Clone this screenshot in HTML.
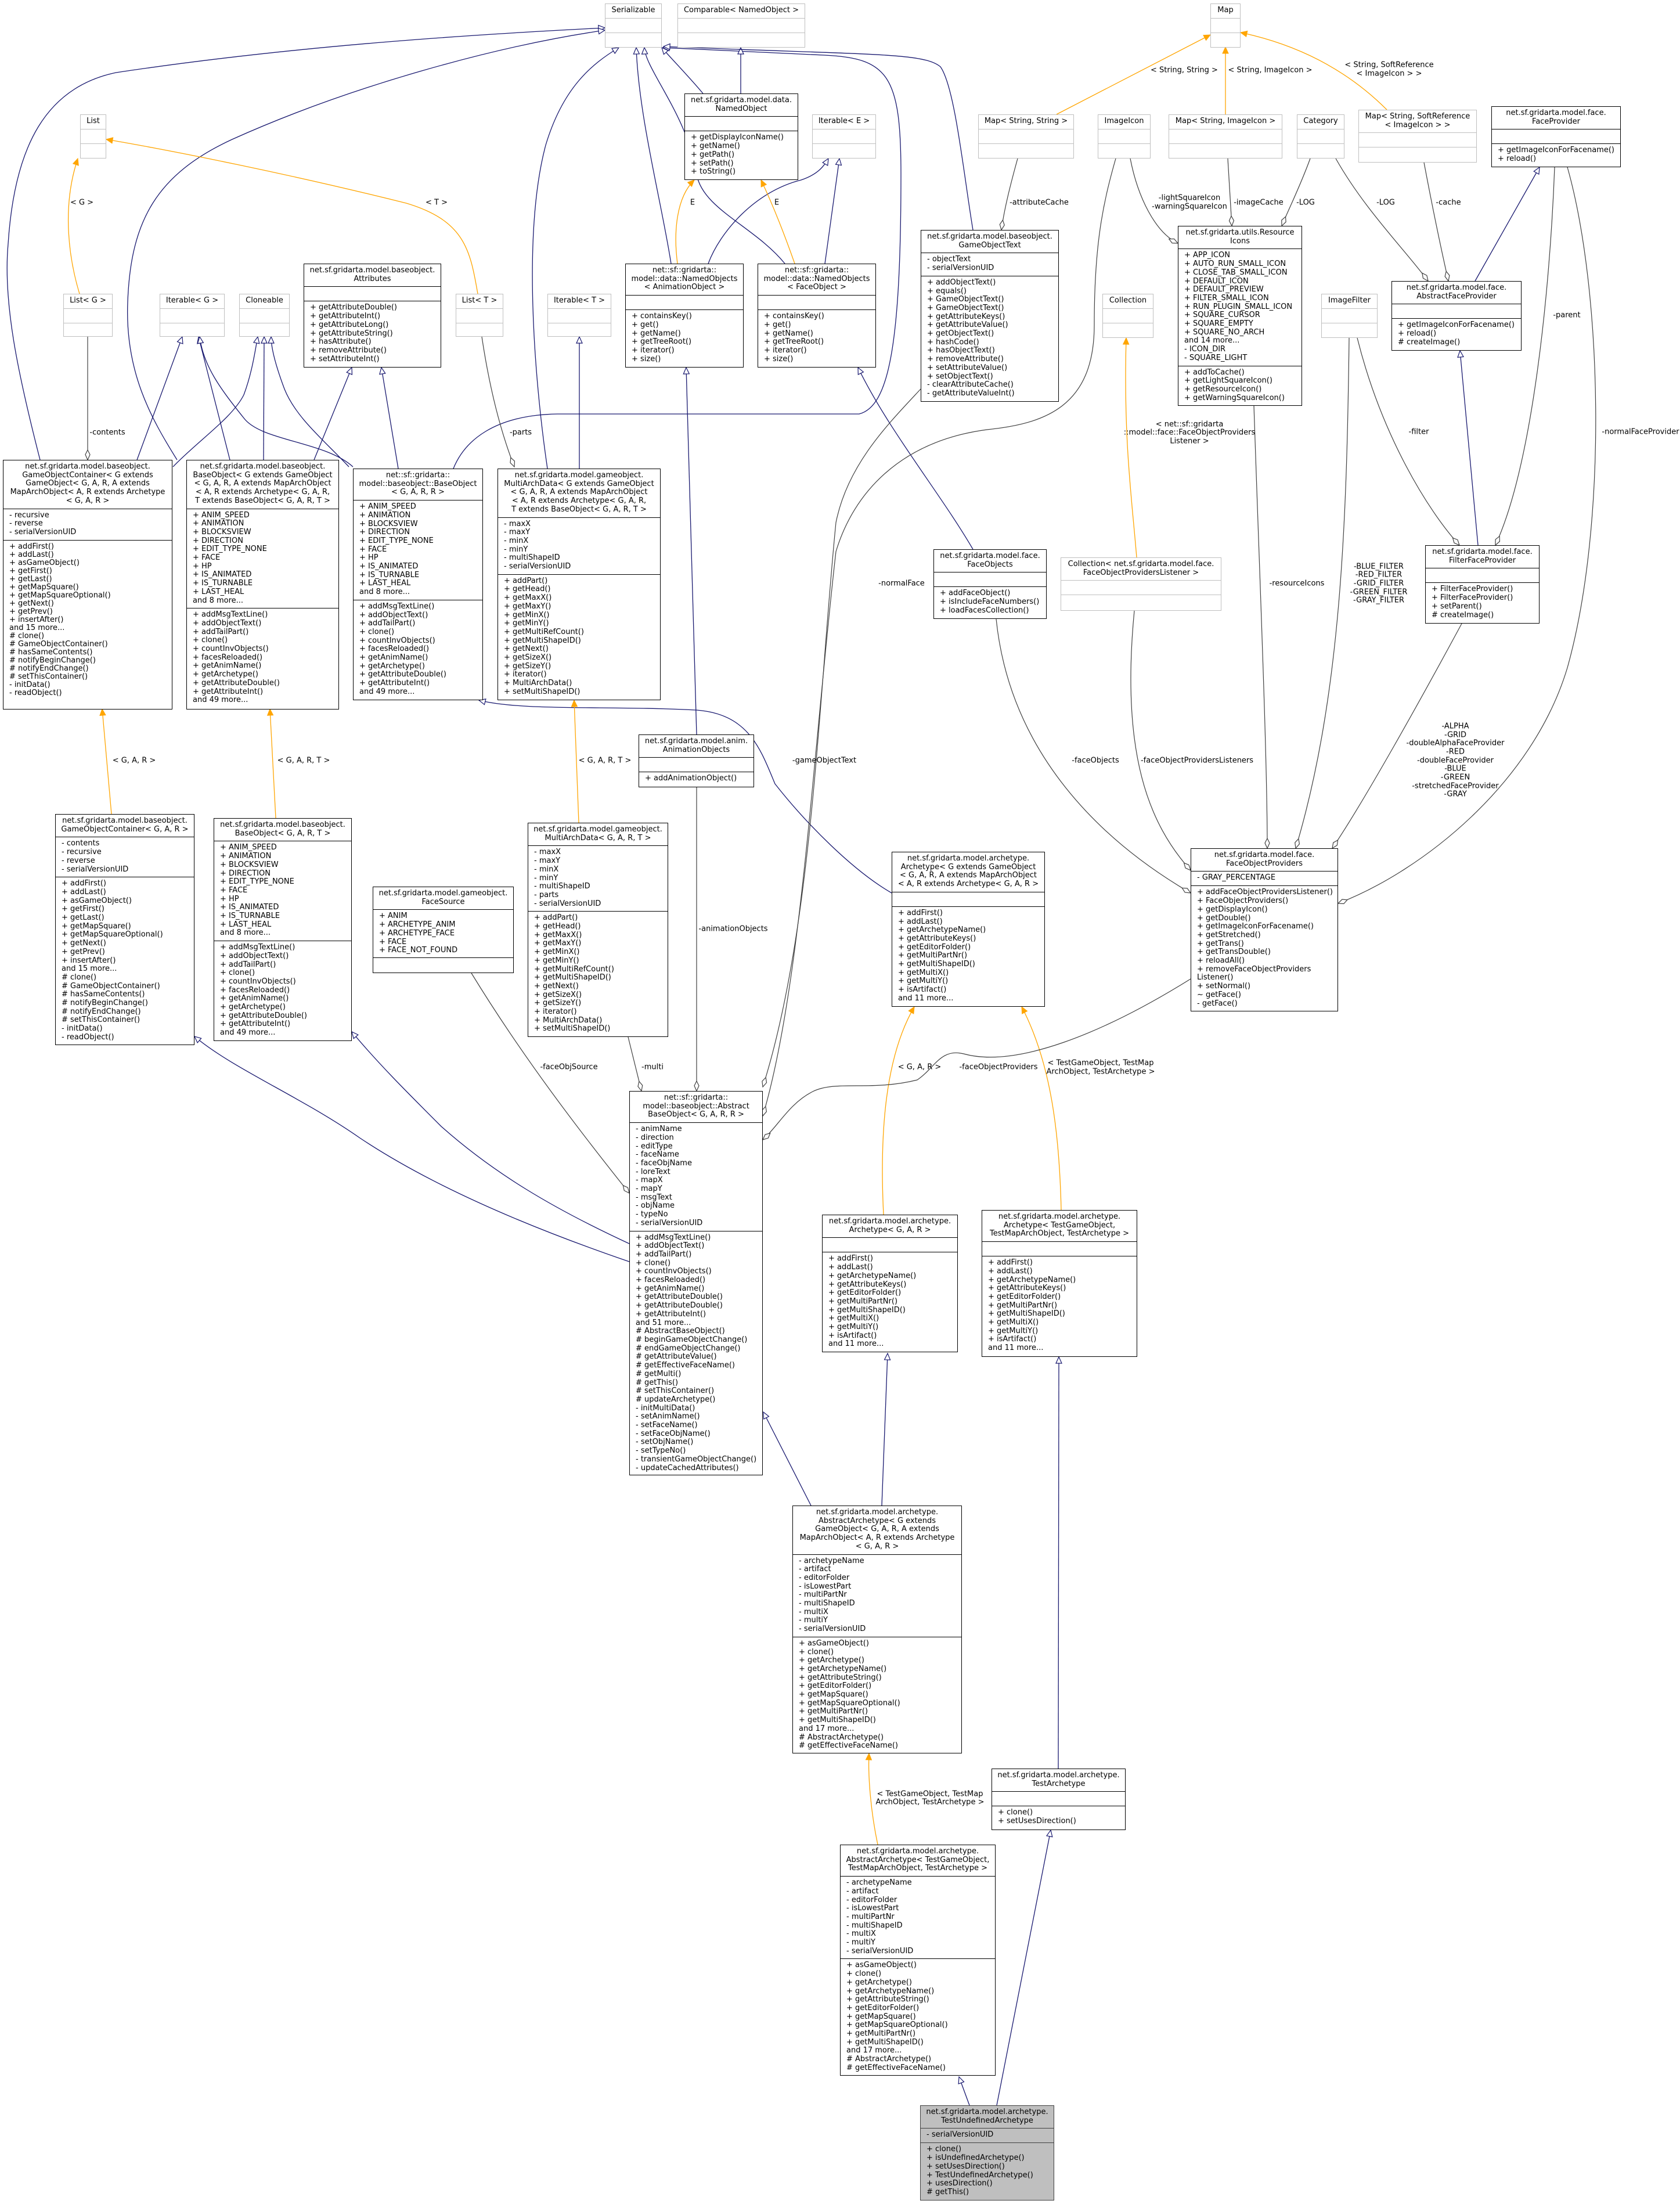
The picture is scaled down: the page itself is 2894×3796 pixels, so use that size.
<!DOCTYPE html>
<html><head><meta charset="utf-8"><style>
*{margin:0;padding:0}
body{width:2894px;height:3796px;background:#fff;position:relative;overflow:hidden;font-family:"DejaVu Sans","Liberation Sans",sans-serif;font-size:13px;color:#000}
.b{position:absolute;border:1.3px solid #000;background:#fff;display:flex;flex-direction:column;box-sizing:border-box;overflow:hidden;white-space:nowrap}
.t{text-align:center;padding:4px 4px 5px;border-bottom:1.3px solid #000;line-height:14.7px}
.s{padding:4px 10px 5px;border-bottom:1.3px solid #000;line-height:14.7px;min-height:25px;box-sizing:border-box}
.f{flex:1;border-bottom:none}
.g{border-color:#bfbfbf}.g .t,.g .s{border-color:#bfbfbf}
.h{background:#bfbfbf;border-color:#404040}.h .t,.h .s{border-color:#404040}
svg{position:absolute;left:0;top:0}
svg text{font-family:"DejaVu Sans","Liberation Sans",sans-serif;font-size:13px;fill:#000}
</style></head><body>
<svg width="2894" height="3796" viewBox="0 0 2894 3796">
<defs>
<marker id="inh" markerUnits="userSpaceOnUse" markerWidth="14" markerHeight="14" refX="12" refY="6" orient="auto"><path d="M1,1 L12,6 L1,11 Z" fill="#fff" stroke="#191970" stroke-width="1.2"/></marker>
<marker id="tpl" markerUnits="userSpaceOnUse" markerWidth="14" markerHeight="14" refX="12" refY="6" orient="auto"><path d="M1,1 L12,6 L1,11 Z" fill="#ffa500" stroke="#ffa500"/></marker>
<marker id="dia" markerUnits="userSpaceOnUse" markerWidth="20" markerHeight="12" refX="18" refY="5" orient="auto"><path d="M1,5 L9,1 L18,5 L9,9 Z" fill="#fff" stroke="#404040" stroke-width="1.2"/></marker>
</defs>
<g fill="none" stroke="#191970" stroke-width="1.3" marker-end="url(#inh)">
<path d="M69,792 C30,640 5,520 14,420 C25,250 80,150 200,125 C500,80 800,60 1042,48"/>
<path d="M305,792 C260,720 215,640 220,520 C225,380 270,300 400,240 C600,150 850,80 1042,52"/>
<path d="M781,807 C800,760 850,715 960,713 L1480,713 C1530,700 1552,600 1552,300 C1552,130 1530,100 1420,95 L1142,82"/>
<path d="M943,807 C920,650 900,400 940,250 C970,150 1020,110 1066,82"/>
<path d="M1156,454 C1140,350 1100,200 1096,82"/>
<path d="M1352,454 C1300,390 1210,360 1200,300 C1185,200 1112,120 1110,82"/>
<path d="M1211,161 C1185,130 1160,105 1140,82"/>
<path d="M1276,161 L1276,82"/>
<path d="M1676,396 C1660,300 1645,150 1620,115 C1590,90 1500,95 1143,80"/>
<path d="M1220,454 C1240,400 1300,330 1380,310 C1410,300 1420,285 1427,273"/>
<path d="M1421,454 L1446,273"/>
<path d="M236,792 L314,580"/>
<path d="M396,792 L342,580"/>
<path d="M608,804 C560,760 450,760 420,720 C380,670 350,630 344,580"/>
<path d="M298,804 C340,760 400,720 420,680 C435,640 440,600 444,580"/>
<path d="M454,792 L455,580"/>
<path d="M601,804 C560,760 510,720 490,670 C475,630 467,600 467,580"/>
<path d="M541,792 L606,633"/>
<path d="M686,807 L657,633"/>
<path d="M998,807 L998,580"/>
<path d="M1676,946 C1620,850 1530,740 1478,633"/>
<path d="M2546,939 L2515,604"/>
<path d="M2541,484 L2652,288"/>
<path d="M1084,2173 C900,2110 740,2040 620,1960 C520,1890 400,1840 335,1785"/>
<path d="M1084,2142 C950,2080 850,2020 760,1940 C700,1880 650,1830 606,1777"/>
<path d="M1536,1538 C1470,1500 1390,1420 1335,1350 C1310,1290 1290,1230 1200,1223 C1050,1215 900,1225 825,1206"/>
<path d="M1397,2593 L1315,2432"/>
<path d="M1519,2593 L1529,2331"/>
<path d="M1670,3626 L1652,3577"/>
<path d="M1717,3626 L1810,3152"/>
<path d="M1823,3046 L1824,2337"/>
<path d="M1200,1265 L1182,633"/>
</g>
<g fill="none" stroke="#ffa500" stroke-width="1.3" marker-end="url(#tpl)">
<path d="M137,506 C120,450 105,360 134,273"/>
<path d="M823,506 C810,430 800,380 700,350 C500,300 300,260 183,240"/>
<path d="M1167,454 C1160,400 1165,340 1196,310"/>
<path d="M1369,454 C1350,400 1330,350 1311,310"/>
<path d="M1820,197 L2085,60"/>
<path d="M2111,197 L2111,81"/>
<path d="M2389,189 C2330,130 2250,80 2137,56"/>
<path d="M1958,960 C1950,860 1935,760 1940,582"/>
<path d="M192,1402 L176,1221"/>
<path d="M475,1409 L465,1221"/>
<path d="M997,1417 L989,1206"/>
<path d="M1522,2092 C1515,1950 1525,1820 1575,1734"/>
<path d="M1828,2084 C1825,1950 1810,1830 1760,1734"/>
<path d="M1512,3177 C1500,3120 1495,3060 1497,3020"/>
</g>
<g fill="none" stroke="#404040" stroke-width="1.2" marker-end="url(#dia)">
<path d="M151,580 L151,792"/>
<path d="M830,580 C845,680 865,750 886,804"/>
<path d="M1753,273 C1740,320 1730,360 1725,396"/>
<path d="M1947,273 C1960,340 1990,400 2029,419"/>
<path d="M2115,273 L2122,389"/>
<path d="M2257,273 C2240,320 2220,360 2208,389"/>
<path d="M2301,273 C2350,360 2420,430 2460,484"/>
<path d="M2453,280 C2470,370 2485,440 2495,484"/>
<path d="M2678,288 C2670,500 2640,800 2576,939"/>
<path d="M2338,582 C2380,750 2460,880 2514,939"/>
<path d="M2700,288 C2760,500 2770,900 2700,1150 C2640,1350 2450,1500 2305,1556"/>
<path d="M2518,1074 C2450,1200 2350,1380 2295,1461"/>
<path d="M2324,582 C2320,900 2310,1200 2232,1461"/>
<path d="M2160,699 C2170,1000 2183,1300 2183,1461"/>
<path d="M1954,1052 C1930,1300 1980,1420 2051,1499"/>
<path d="M1716,1066 C1740,1300 1900,1450 2051,1538"/>
<path d="M1922,273 C1900,350 1885,420 1885,560 C1885,700 1800,730 1700,740 C1550,760 1470,850 1440,950 C1400,1300 1380,1700 1314,1922"/>
<path d="M1586,670 C1530,730 1460,800 1440,900 C1410,1200 1400,1600 1314,1872"/>
<path d="M1200,1356 L1200,1879"/>
<path d="M1082,1786 L1105,1879"/>
<path d="M812,1676 C900,1820 1000,1950 1084,2055"/>
<path d="M2051,1686 C1900,1780 1750,1840 1660,1815 C1620,1805 1610,1840 1580,1860 C1500,1880 1440,1860 1400,1880 C1360,1900 1340,1940 1314,1963"/>
</g>
<g text-anchor="middle" dominant-baseline="middle">
<text x="141" y="349">&lt; G &gt;</text>
<text x="752" y="349">&lt; T &gt;</text>
<text x="1193" y="349">E</text>
<text x="1338" y="349">E</text>
<text x="2040" y="121">&lt; String, String &gt;</text>
<text x="2188" y="121">&lt; String, ImageIcon &gt;</text>
<text x="2393" y="112">&lt; String, SoftReference</text>
<text x="2393" y="127">&lt; ImageIcon &gt; &gt;</text>
<text x="2049" y="731">&lt; net::sf::gridarta</text>
<text x="2049" y="745">::model::face::FaceObjectProviders</text>
<text x="2049" y="760">Listener &gt;</text>
<text x="231" y="1310">&lt; G, A, R &gt;</text>
<text x="523" y="1310">&lt; G, A, R, T &gt;</text>
<text x="1042" y="1310">&lt; G, A, R, T &gt;</text>
<text x="1584" y="1838">&lt; G, A, R &gt;</text>
<text x="1896" y="1831">&lt; TestGameObject, TestMap</text>
<text x="1896" y="1846">ArchObject, TestArchetype &gt;</text>
<text x="1602" y="3090">&lt; TestGameObject, TestMap</text>
<text x="1602" y="3104">ArchObject, TestArchetype &gt;</text>
<text x="185" y="745">-contents</text>
<text x="897" y="745">-parts</text>
<text x="1790" y="349">-attributeCache</text>
<text x="2049" y="341">-lightSquareIcon</text>
<text x="2049" y="356">-warningSquareIcon</text>
<text x="2168" y="349">-imageCache</text>
<text x="2249" y="349">-LOG</text>
<text x="2387" y="349">-LOG</text>
<text x="2495" y="349">-cache</text>
<text x="2699" y="543">-parent</text>
<text x="2444" y="744">-filter</text>
<text x="2826" y="744">-normalFaceProvider</text>
<text x="2507" y="1251">-ALPHA</text>
<text x="2507" y="1266">-GRID</text>
<text x="2507" y="1280">-doubleAlphaFaceProvider</text>
<text x="2507" y="1295">-RED</text>
<text x="2507" y="1310">-doubleFaceProvider</text>
<text x="2507" y="1324">-BLUE</text>
<text x="2507" y="1339">-GREEN</text>
<text x="2507" y="1354">-stretchedFaceProvider</text>
<text x="2507" y="1368">-GRAY</text>
<text x="2375" y="976">-BLUE_FILTER</text>
<text x="2375" y="990">-RED_FILTER</text>
<text x="2375" y="1005">-GRID_FILTER</text>
<text x="2375" y="1020">-GREEN_FILTER</text>
<text x="2375" y="1034">-GRAY_FILTER</text>
<text x="2234" y="1005">-resourceIcons</text>
<text x="2062" y="1310">-faceObjectProvidersListeners</text>
<text x="1887" y="1310">-faceObjects</text>
<text x="1553" y="1005">-normalFace</text>
<text x="1420" y="1310">-gameObjectText</text>
<text x="1263" y="1600">-animationObjects</text>
<text x="1124" y="1838">-multi</text>
<text x="980" y="1838">-faceObjSource</text>
<text x="1720" y="1838">-faceObjectProviders</text>
</g>
</svg>

<div class="b g" style="left:1042px;top:6px;width:98px;height:76px"><div class="t">Serializable</div><div class="s"></div><div class="s f"></div></div>
<div class="b g" style="left:1167px;top:6px;width:220px;height:76px"><div class="t">Comparable&lt; NamedObject &gt;</div><div class="s"></div><div class="s f"></div></div>
<div class="b g" style="left:2085px;top:6px;width:52px;height:76px"><div class="t">Map</div><div class="s"></div><div class="s f"></div></div>
<div class="b" style="left:1179px;top:161px;width:196px;height:149px"><div class="t">net.sf.gridarta.model.data.<br>NamedObject</div><div class="s"></div><div class="s f">+ getDisplayIconName()<br>+ getName()<br>+ getPath()<br>+ setPath()<br>+ toString()</div></div>
<div class="b g" style="left:138px;top:197px;width:45px;height:76px"><div class="t">List</div><div class="s"></div><div class="s f"></div></div>
<div class="b g" style="left:1399px;top:197px;width:110px;height:76px"><div class="t">Iterable&lt; E &gt;</div><div class="s"></div><div class="s f"></div></div>
<div class="b g" style="left:1685px;top:197px;width:165px;height:76px"><div class="t">Map&lt; String, String &gt;</div><div class="s"></div><div class="s f"></div></div>
<div class="b g" style="left:1891px;top:197px;width:91px;height:76px"><div class="t">ImageIcon</div><div class="s"></div><div class="s f"></div></div>
<div class="b g" style="left:2013px;top:197px;width:196px;height:76px"><div class="t">Map&lt; String, ImageIcon &gt;</div><div class="s"></div><div class="s f"></div></div>
<div class="b g" style="left:2234px;top:197px;width:82px;height:76px"><div class="t">Category</div><div class="s"></div><div class="s f"></div></div>
<div class="b g" style="left:2340px;top:189px;width:204px;height:91px"><div class="t">Map&lt; String, SoftReference<br>&lt; ImageIcon &gt; &gt;</div><div class="s"></div><div class="s f"></div></div>
<div class="b" style="left:2569px;top:183px;width:223px;height:105px"><div class="t">net.sf.gridarta.model.face.<br>FaceProvider</div><div class="s"></div><div class="s f">+ getImageIconForFacename()<br>+ reload()</div></div>
<div class="b" style="left:523px;top:454px;width:237px;height:179px"><div class="t">net.sf.gridarta.model.baseobject.<br>Attributes</div><div class="s"></div><div class="s f">+ getAttributeDouble()<br>+ getAttributeInt()<br>+ getAttributeLong()<br>+ getAttributeString()<br>+ hasAttribute()<br>+ removeAttribute()<br>+ setAttributeInt()</div></div>
<div class="b" style="left:1077px;top:454px;width:204px;height:179px"><div class="t">net::sf::gridarta::<br>model::data::NamedObjects<br>&lt; AnimationObject &gt;</div><div class="s"></div><div class="s f">+ containsKey()<br>+ get()<br>+ getName()<br>+ getTreeRoot()<br>+ iterator()<br>+ size()</div></div>
<div class="b" style="left:1305px;top:454px;width:204px;height:179px"><div class="t">net::sf::gridarta::<br>model::data::NamedObjects<br>&lt; FaceObject &gt;</div><div class="s"></div><div class="s f">+ containsKey()<br>+ get()<br>+ getName()<br>+ getTreeRoot()<br>+ iterator()<br>+ size()</div></div>
<div class="b" style="left:1586px;top:396px;width:238px;height:296px"><div class="t">net.sf.gridarta.model.baseobject.<br>GameObjectText</div><div class="s">- objectText<br>- serialVersionUID</div><div class="s f">+ addObjectText()<br>+ equals()<br>+ GameObjectText()<br>+ GameObjectText()<br>+ getAttributeKeys()<br>+ getAttributeValue()<br>+ getObjectText()<br>+ hashCode()<br>+ hasObjectText()<br>+ removeAttribute()<br>+ setAttributeValue()<br>+ setObjectText()<br>- clearAttributeCache()<br>- getAttributeValueInt()</div></div>
<div class="b" style="left:2029px;top:389px;width:214px;height:310px"><div class="t">net.sf.gridarta.utils.Resource<br>Icons</div><div class="s">+ APP_ICON<br>+ AUTO_RUN_SMALL_ICON<br>+ CLOSE_TAB_SMALL_ICON<br>+ DEFAULT_ICON<br>+ DEFAULT_PREVIEW<br>+ FILTER_SMALL_ICON<br>+ RUN_PLUGIN_SMALL_ICON<br>+ SQUARE_CURSOR<br>+ SQUARE_EMPTY<br>+ SQUARE_NO_ARCH<br>and 14 more...<br>- ICON_DIR<br>- SQUARE_LIGHT</div><div class="s f">+ addToCache()<br>+ getLightSquareIcon()<br>+ getResourceIcon()<br>+ getWarningSquareIcon()</div></div>
<div class="b" style="left:2397px;top:484px;width:224px;height:120px"><div class="t">net.sf.gridarta.model.face.<br>AbstractFaceProvider</div><div class="s"></div><div class="s f">+ getImageIconForFacename()<br>+ reload()<br># createImage()</div></div>
<div class="b g" style="left:109px;top:506px;width:85px;height:74px"><div class="t">List&lt; G &gt;</div><div class="s"></div><div class="s f"></div></div>
<div class="b g" style="left:275px;top:506px;width:112px;height:74px"><div class="t">Iterable&lt; G &gt;</div><div class="s"></div><div class="s f"></div></div>
<div class="b g" style="left:412px;top:506px;width:87px;height:74px"><div class="t">Cloneable</div><div class="s"></div><div class="s f"></div></div>
<div class="b g" style="left:785px;top:506px;width:82px;height:74px"><div class="t">List&lt; T &gt;</div><div class="s"></div><div class="s f"></div></div>
<div class="b g" style="left:943px;top:506px;width:110px;height:74px"><div class="t">Iterable&lt; T &gt;</div><div class="s"></div><div class="s f"></div></div>
<div class="b g" style="left:1899px;top:506px;width:88px;height:76px"><div class="t">Collection</div><div class="s"></div><div class="s f"></div></div>
<div class="b g" style="left:2276px;top:506px;width:97px;height:76px"><div class="t">ImageFilter</div><div class="s"></div><div class="s f"></div></div>

<div class="b" style="left:5px;top:792px;width:292px;height:430px"><div class="t">net.sf.gridarta.model.baseobject.<br>GameObjectContainer&lt; G extends<br>GameObject&lt; G, A, R, A extends<br>MapArchObject&lt; A, R extends Archetype<br>&lt; G, A, R &gt;</div><div class="s">- recursive<br>- reverse<br>- serialVersionUID</div><div class="s f" style="line-height:14px">+ addFirst()<br>+ addLast()<br>+ asGameObject()<br>+ getFirst()<br>+ getLast()<br>+ getMapSquare()<br>+ getMapSquareOptional()<br>+ getNext()<br>+ getPrev()<br>+ insertAfter()<br>and 15 more...<br># clone()<br># GameObjectContainer()<br># hasSameContents()<br># notifyBeginChange()<br># notifyEndChange()<br># setThisContainer()<br>- initData()<br>- readObject()</div></div>
<div class="b" style="left:321px;top:792px;width:263px;height:430px"><div class="t">net.sf.gridarta.model.baseobject.<br>BaseObject&lt; G extends GameObject<br>&lt; G, A, R, A extends MapArchObject<br>&lt; A, R extends Archetype&lt; G, A, R,<br>T extends BaseObject&lt; G, A, R, T &gt;</div><div class="s">+ ANIM_SPEED<br>+ ANIMATION<br>+ BLOCKSVIEW<br>+ DIRECTION<br>+ EDIT_TYPE_NONE<br>+ FACE<br>+ HP<br>+ IS_ANIMATED<br>+ IS_TURNABLE<br>+ LAST_HEAL<br>and 8 more...</div><div class="s f">+ addMsgTextLine()<br>+ addObjectText()<br>+ addTailPart()<br>+ clone()<br>+ countInvObjects()<br>+ facesReloaded()<br>+ getAnimName()<br>+ getArchetype()<br>+ getAttributeDouble()<br>+ getAttributeInt()<br>and 49 more...</div></div>
<div class="b" style="left:608px;top:807px;width:224px;height:399px"><div class="t">net::sf::gridarta::<br>model::baseobject::BaseObject<br>&lt; G, A, R, R &gt;</div><div class="s">+ ANIM_SPEED<br>+ ANIMATION<br>+ BLOCKSVIEW<br>+ DIRECTION<br>+ EDIT_TYPE_NONE<br>+ FACE<br>+ HP<br>+ IS_ANIMATED<br>+ IS_TURNABLE<br>+ LAST_HEAL<br>and 8 more...</div><div class="s f">+ addMsgTextLine()<br>+ addObjectText()<br>+ addTailPart()<br>+ clone()<br>+ countInvObjects()<br>+ facesReloaded()<br>+ getAnimName()<br>+ getArchetype()<br>+ getAttributeDouble()<br>+ getAttributeInt()<br>and 49 more...</div></div>
<div class="b" style="left:857px;top:807px;width:281px;height:399px"><div class="t">net.sf.gridarta.model.gameobject.<br>MultiArchData&lt; G extends GameObject<br>&lt; G, A, R, A extends MapArchObject<br>&lt; A, R extends Archetype&lt; G, A, R,<br>T extends BaseObject&lt; G, A, R, T &gt;</div><div class="s">- maxX<br>- maxY<br>- minX<br>- minY<br>- multiShapeID<br>- serialVersionUID</div><div class="s f">+ addPart()<br>+ getHead()<br>+ getMaxX()<br>+ getMaxY()<br>+ getMinX()<br>+ getMinY()<br>+ getMultiRefCount()<br>+ getMultiShapeID()<br>+ getNext()<br>+ getSizeX()<br>+ getSizeY()<br>+ iterator()<br>+ MultiArchData()<br>+ setMultiShapeID()</div></div>
<div class="b" style="left:1608px;top:946px;width:195px;height:120px"><div class="t">net.sf.gridarta.model.face.<br>FaceObjects</div><div class="s"></div><div class="s f">+ addFaceObject()<br>+ isIncludeFaceNumbers()<br>+ loadFacesCollection()</div></div>
<div class="b g" style="left:1827px;top:960px;width:277px;height:92px"><div class="t">Collection&lt; net.sf.gridarta.model.face.<br>FaceObjectProvidersListener &gt;</div><div class="s"></div><div class="s f"></div></div>
<div class="b" style="left:2455px;top:939px;width:197px;height:135px"><div class="t">net.sf.gridarta.model.face.<br>FilterFaceProvider</div><div class="s"></div><div class="s f">+ FilterFaceProvider()<br>+ FilterFaceProvider()<br>+ setParent()<br># createImage()</div></div>
<div class="b" style="left:1100px;top:1265px;width:199px;height:91px"><div class="t">net.sf.gridarta.model.anim.<br>AnimationObjects</div><div class="s"></div><div class="s f">+ addAnimationObject()</div></div>

<div class="b" style="left:95px;top:1402px;width:240px;height:398px"><div class="t">net.sf.gridarta.model.baseobject.<br>GameObjectContainer&lt; G, A, R &gt;</div><div class="s">- contents<br>- recursive<br>- reverse<br>- serialVersionUID</div><div class="s f">+ addFirst()<br>+ addLast()<br>+ asGameObject()<br>+ getFirst()<br>+ getLast()<br>+ getMapSquare()<br>+ getMapSquareOptional()<br>+ getNext()<br>+ getPrev()<br>+ insertAfter()<br>and 15 more...<br># clone()<br># GameObjectContainer()<br># hasSameContents()<br># notifyBeginChange()<br># notifyEndChange()<br># setThisContainer()<br>- initData()<br>- readObject()</div></div>
<div class="b" style="left:368px;top:1409px;width:238px;height:384px"><div class="t">net.sf.gridarta.model.baseobject.<br>BaseObject&lt; G, A, R, T &gt;</div><div class="s">+ ANIM_SPEED<br>+ ANIMATION<br>+ BLOCKSVIEW<br>+ DIRECTION<br>+ EDIT_TYPE_NONE<br>+ FACE<br>+ HP<br>+ IS_ANIMATED<br>+ IS_TURNABLE<br>+ LAST_HEAL<br>and 8 more...</div><div class="s f">+ addMsgTextLine()<br>+ addObjectText()<br>+ addTailPart()<br>+ clone()<br>+ countInvObjects()<br>+ facesReloaded()<br>+ getAnimName()<br>+ getArchetype()<br>+ getAttributeDouble()<br>+ getAttributeInt()<br>and 49 more...</div></div>
<div class="b" style="left:642px;top:1527px;width:243px;height:149px"><div class="t">net.sf.gridarta.model.gameobject.<br>FaceSource</div><div class="s">+ ANIM<br>+ ARCHETYPE_ANIM<br>+ ARCHETYPE_FACE<br>+ FACE<br>+ FACE_NOT_FOUND</div><div class="s f"></div></div>
<div class="b" style="left:909px;top:1417px;width:242px;height:369px"><div class="t">net.sf.gridarta.model.gameobject.<br>MultiArchData&lt; G, A, R, T &gt;</div><div class="s">- maxX<br>- maxY<br>- minX<br>- minY<br>- multiShapeID<br>- parts<br>- serialVersionUID</div><div class="s f">+ addPart()<br>+ getHead()<br>+ getMaxX()<br>+ getMaxY()<br>+ getMinX()<br>+ getMinY()<br>+ getMultiRefCount()<br>+ getMultiShapeID()<br>+ getNext()<br>+ getSizeX()<br>+ getSizeY()<br>+ iterator()<br>+ MultiArchData()<br>+ setMultiShapeID()</div></div>
<div class="b" style="left:1536px;top:1467px;width:264px;height:267px"><div class="t">net.sf.gridarta.model.archetype.<br>Archetype&lt; G extends GameObject<br>&lt; G, A, R, A extends MapArchObject<br>&lt; A, R extends Archetype&lt; G, A, R &gt;</div><div class="s"></div><div class="s f">+ addFirst()<br>+ addLast()<br>+ getArchetypeName()<br>+ getAttributeKeys()<br>+ getEditorFolder()<br>+ getMultiPartNr()<br>+ getMultiShapeID()<br>+ getMultiX()<br>+ getMultiY()<br>+ isArtifact()<br>and 11 more...</div></div>
<div class="b" style="left:2051px;top:1461px;width:254px;height:281px"><div class="t">net.sf.gridarta.model.face.<br>FaceObjectProviders</div><div class="s">- GRAY_PERCENTAGE</div><div class="s f">+ addFaceObjectProvidersListener()<br>+ FaceObjectProviders()<br>+ getDisplayIcon()<br>+ getDouble()<br>+ getImageIconForFacename()<br>+ getStretched()<br>+ getTrans()<br>+ getTransDouble()<br>+ reloadAll()<br>+ removeFaceObjectProviders<br>Listener()<br>+ setNormal()<br>~ getFace()<br>- getFace()</div></div>

<div class="b" style="left:1084px;top:1879px;width:230px;height:662px"><div class="t">net::sf::gridarta::<br>model::baseobject::Abstract<br>BaseObject&lt; G, A, R, R &gt;</div><div class="s">- animName<br>- direction<br>- editType<br>- faceName<br>- faceObjName<br>- loreText<br>- mapX<br>- mapY<br>- msgText<br>- objName<br>- typeNo<br>- serialVersionUID</div><div class="s f">+ addMsgTextLine()<br>+ addObjectText()<br>+ addTailPart()<br>+ clone()<br>+ countInvObjects()<br>+ facesReloaded()<br>+ getAnimName()<br>+ getAttributeDouble()<br>+ getAttributeDouble()<br>+ getAttributeInt()<br>and 51 more...<br># AbstractBaseObject()<br># beginGameObjectChange()<br># endGameObjectChange()<br># getAttributeValue()<br># getEffectiveFaceName()<br># getMulti()<br># getThis()<br># setThisContainer()<br># updateArchetype()<br>- initMultiData()<br>- setAnimName()<br>- setFaceName()<br>- setFaceObjName()<br>- setObjName()<br>- setTypeNo()<br>- transientGameObjectChange()<br>- updateCachedAttributes()</div></div>
<div class="b" style="left:1416px;top:2092px;width:234px;height:237px"><div class="t">net.sf.gridarta.model.archetype.<br>Archetype&lt; G, A, R &gt;</div><div class="s"></div><div class="s f">+ addFirst()<br>+ addLast()<br>+ getArchetypeName()<br>+ getAttributeKeys()<br>+ getEditorFolder()<br>+ getMultiPartNr()<br>+ getMultiShapeID()<br>+ getMultiX()<br>+ getMultiY()<br>+ isArtifact()<br>and 11 more...</div></div>
<div class="b" style="left:1691px;top:2084px;width:268px;height:253px"><div class="t">net.sf.gridarta.model.archetype.<br>Archetype&lt; TestGameObject,<br>TestMapArchObject, TestArchetype &gt;</div><div class="s"></div><div class="s f">+ addFirst()<br>+ addLast()<br>+ getArchetypeName()<br>+ getAttributeKeys()<br>+ getEditorFolder()<br>+ getMultiPartNr()<br>+ getMultiShapeID()<br>+ getMultiX()<br>+ getMultiY()<br>+ isArtifact()<br>and 11 more...</div></div>
<div class="b" style="left:1365px;top:2593px;width:292px;height:427px"><div class="t">net.sf.gridarta.model.archetype.<br>AbstractArchetype&lt; G extends<br>GameObject&lt; G, A, R, A extends<br>MapArchObject&lt; A, R extends Archetype<br>&lt; G, A, R &gt;</div><div class="s">- archetypeName<br>- artifact<br>- editorFolder<br>- isLowestPart<br>- multiPartNr<br>- multiShapeID<br>- multiX<br>- multiY<br>- serialVersionUID</div><div class="s f">+ asGameObject()<br>+ clone()<br>+ getArchetype()<br>+ getArchetypeName()<br>+ getAttributeString()<br>+ getEditorFolder()<br>+ getMapSquare()<br>+ getMapSquareOptional()<br>+ getMultiPartNr()<br>+ getMultiShapeID()<br>and 17 more...<br># AbstractArchetype()<br># getEffectiveFaceName()</div></div>
<div class="b" style="left:1708px;top:3046px;width:231px;height:106px"><div class="t">net.sf.gridarta.model.archetype.<br>TestArchetype</div><div class="s"></div><div class="s f">+ clone()<br>+ setUsesDirection()</div></div>
<div class="b" style="left:1447px;top:3177px;width:268px;height:398px"><div class="t">net.sf.gridarta.model.archetype.<br>AbstractArchetype&lt; TestGameObject,<br>TestMapArchObject, TestArchetype &gt;</div><div class="s">- archetypeName<br>- artifact<br>- editorFolder<br>- isLowestPart<br>- multiPartNr<br>- multiShapeID<br>- multiX<br>- multiY<br>- serialVersionUID</div><div class="s f">+ asGameObject()<br>+ clone()<br>+ getArchetype()<br>+ getArchetypeName()<br>+ getAttributeString()<br>+ getEditorFolder()<br>+ getMapSquare()<br>+ getMapSquareOptional()<br>+ getMultiPartNr()<br>+ getMultiShapeID()<br>and 17 more...<br># AbstractArchetype()<br># getEffectiveFaceName()</div></div>
<div class="b h" style="left:1585px;top:3626px;width:231px;height:164px"><div class="t">net.sf.gridarta.model.archetype.<br>TestUndefinedArchetype</div><div class="s">- serialVersionUID</div><div class="s f">+ clone()<br>+ isUndefinedArchetype()<br>+ setUsesDirection()<br>+ TestUndefinedArchetype()<br>+ usesDirection()<br># getThis()</div></div>
</body></html>
